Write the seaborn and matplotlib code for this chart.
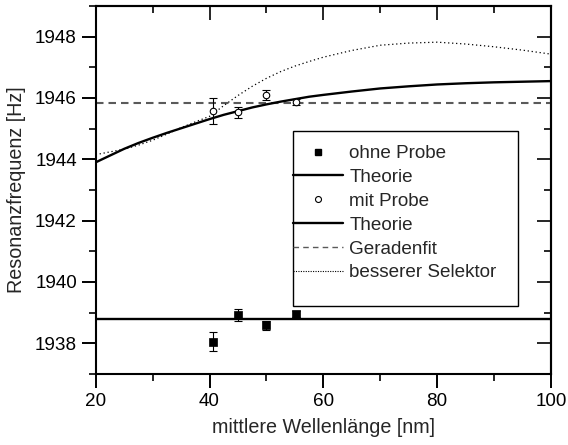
import matplotlib
matplotlib.use("Agg")
import matplotlib.pyplot as plt
from matplotlib.lines import Line2D
from matplotlib.patches import Rectangle
from matplotlib.ticker import MultipleLocator
import pandas as pd
import seaborn as sns

wellenlaenge = [40.6, 45.0, 49.9, 55.2]

ohne_probe = [1938.05, 1938.93, 1938.58, 1938.95]
ohne_probe_err = [0.32, 0.20, 0.15, 0.10]

mit_probe = [1945.57, 1945.53, 1946.09, 1945.87]
mit_probe_err = [0.43, 0.17, 0.16, 0.10]

# Theorie ohne Probe (konstant)
theorie_ohne_x = [20, 100]
theorie_ohne_y = [1938.79, 1938.79]

# Theorie mit Probe
theorie_x = [20, 22.5, 25, 27.5, 30, 32.5, 35, 37.5, 40, 42.5, 45, 47.5, 50,
             52.5, 55, 57.5, 60, 65, 70, 75, 80, 85, 90, 95, 100]
theorie_mit_y = [1943.90, 1944.12, 1944.34, 1944.53, 1944.70, 1944.86, 1945.01,
                 1945.16, 1945.31, 1945.45, 1945.57, 1945.69, 1945.79, 1945.88,
                 1945.96, 1946.04, 1946.10, 1946.21, 1946.31, 1946.38, 1946.44,
                 1946.48, 1946.51, 1946.53, 1946.55]

# besserer Selektor
selektor_y = [1944.15, 1944.24, 1944.33, 1944.46, 1944.62, 1944.82, 1945.03,
              1945.22, 1945.40, 1945.75, 1946.08, 1946.38, 1946.64, 1946.86,
              1947.04, 1947.19, 1947.33, 1947.55, 1947.72, 1947.79, 1947.82,
              1947.76, 1947.67, 1947.56, 1947.43]

# Geradenfit (konstant)
gerade_x = [20, 100]
gerade_y = [1945.83, 1945.83]

# --- Stil ---
sns.set_style("white")
plt.rcParams['font.family'] = ['Liberation Sans', 'DejaVu Sans']

fig = plt.figure(figsize=(5.68, 4.45), dpi=100)
ax = fig.add_axes([0.1685, 0.160, 0.8015, 0.8265])

df_theo = pd.DataFrame({'x': theorie_x, 'mit': theorie_mit_y, 'sel': selektor_y})
df_ohne = pd.DataFrame({'x': theorie_ohne_x, 'y': theorie_ohne_y})
df_gerade = pd.DataFrame({'x': gerade_x, 'y': gerade_y})
df_mess = pd.DataFrame({'x': wellenlaenge, 'ohne': ohne_probe, 'mit': mit_probe})

# Kurven
sns.lineplot(data=df_gerade, x='x', y='y', ax=ax, color='#5a5a5a', lw=1.5,
             dashes=False).lines[-1].set_dashes((3.6, 2.4))
sns.lineplot(data=df_theo, x='x', y='sel', ax=ax, color='black', lw=0.9)
ax.lines[-1].set_dashes((1, 2.2))
sns.lineplot(data=df_ohne, x='x', y='y', ax=ax, color='black', lw=1.7)
sns.lineplot(data=df_theo, x='x', y='mit', ax=ax, color='black', lw=1.7)

# Fehlerbalken
ax.errorbar(wellenlaenge, ohne_probe, yerr=ohne_probe_err, fmt='none',
            ecolor='black', elinewidth=0.8, capsize=2.6, capthick=0.8, zorder=3)
ax.errorbar(wellenlaenge, mit_probe, yerr=mit_probe_err, fmt='none',
            ecolor='black', elinewidth=0.8, capsize=2.6, capthick=0.8, zorder=3)

# Messpunkte
sns.scatterplot(data=df_mess, x='x', y='ohne', ax=ax, marker='s', s=26,
                color='black', edgecolor='black', linewidth=0.5, zorder=4)
sns.scatterplot(data=df_mess, x='x', y='mit', ax=ax, marker='o', s=22,
                facecolor='white', edgecolor='black', linewidth=0.8, zorder=4)

# Achsen
ax.set_xlim(20, 100)
ax.set_ylim(1937, 1949)
ax.xaxis.set_major_locator(MultipleLocator(20))
ax.xaxis.set_minor_locator(MultipleLocator(10))
ax.yaxis.set_major_locator(MultipleLocator(2))
ax.yaxis.set_minor_locator(MultipleLocator(1))
ax.tick_params(which='major', direction='out', length=10, width=1.4,
               labelsize=13.6, colors='black', bottom=True, left=True)
ax.tick_params(which='minor', direction='out', length=5, width=1.4,
               bottom=True, left=True)
ax.set_xlabel('mittlere Wellenlänge [nm]', fontsize=14.2, labelpad=6)
ax.set_ylabel('Resonanzfrequenz [Hz]', fontsize=14.2, labelpad=6)
for sp in ax.spines.values():
    sp.set_linewidth(1.5)
    sp.set_color('black')

# obere und rechte Achse mit Ticks nach innen
top = ax.secondary_xaxis('top')
top.xaxis.set_major_locator(MultipleLocator(20))
top.xaxis.set_minor_locator(MultipleLocator(10))
top.tick_params(which='major', direction='in', length=10, width=1.4, labeltop=False)
top.tick_params(which='minor', direction='in', length=5, width=1.4)
top.spines['top'].set_linewidth(1.5)
right = ax.secondary_yaxis('right')
right.yaxis.set_major_locator(MultipleLocator(2))
right.yaxis.set_minor_locator(MultipleLocator(1))
right.tick_params(which='major', direction='in', length=10, width=1.4, labelright=False)
right.tick_params(which='minor', direction='in', length=5, width=1.4)
right.spines['right'].set_linewidth(1.5)

# Legende
handles = [
    Line2D([], [], marker='s', ls='none', color='black', markersize=4.5),
    Line2D([], [], color='black', lw=1.7),
    Line2D([], [], marker='o', ls='none', mfc='white', mec='black',
           markersize=4.3, mew=0.8),
    Line2D([], [], color='black', lw=1.7),
    Line2D([], [], color='#5a5a5a', lw=1.0, dashes=(4, 3)),
    Line2D([], [], color='black', lw=0.8, dashes=(1, 1.2)),
]
labels = ['ohne Probe', 'Theorie', 'mit Probe', 'Theorie', 'Geradenfit',
          'besserer Selektor']
ax.legend(handles, labels, loc='upper left', bbox_to_anchor=(0.4336, 0.622),
          frameon=False, borderpad=0, borderaxespad=0, fontsize=13.6,
          handlelength=2.63, handletextpad=0.35, labelspacing=0.35,
          numpoints=1)
ax.add_patch(Rectangle((0.4336, 0.184), 0.4931, 0.475, transform=ax.transAxes,
                       fill=False, edgecolor='black', lw=1.0, zorder=5))

fig.savefig('out.png', dpi=100)
